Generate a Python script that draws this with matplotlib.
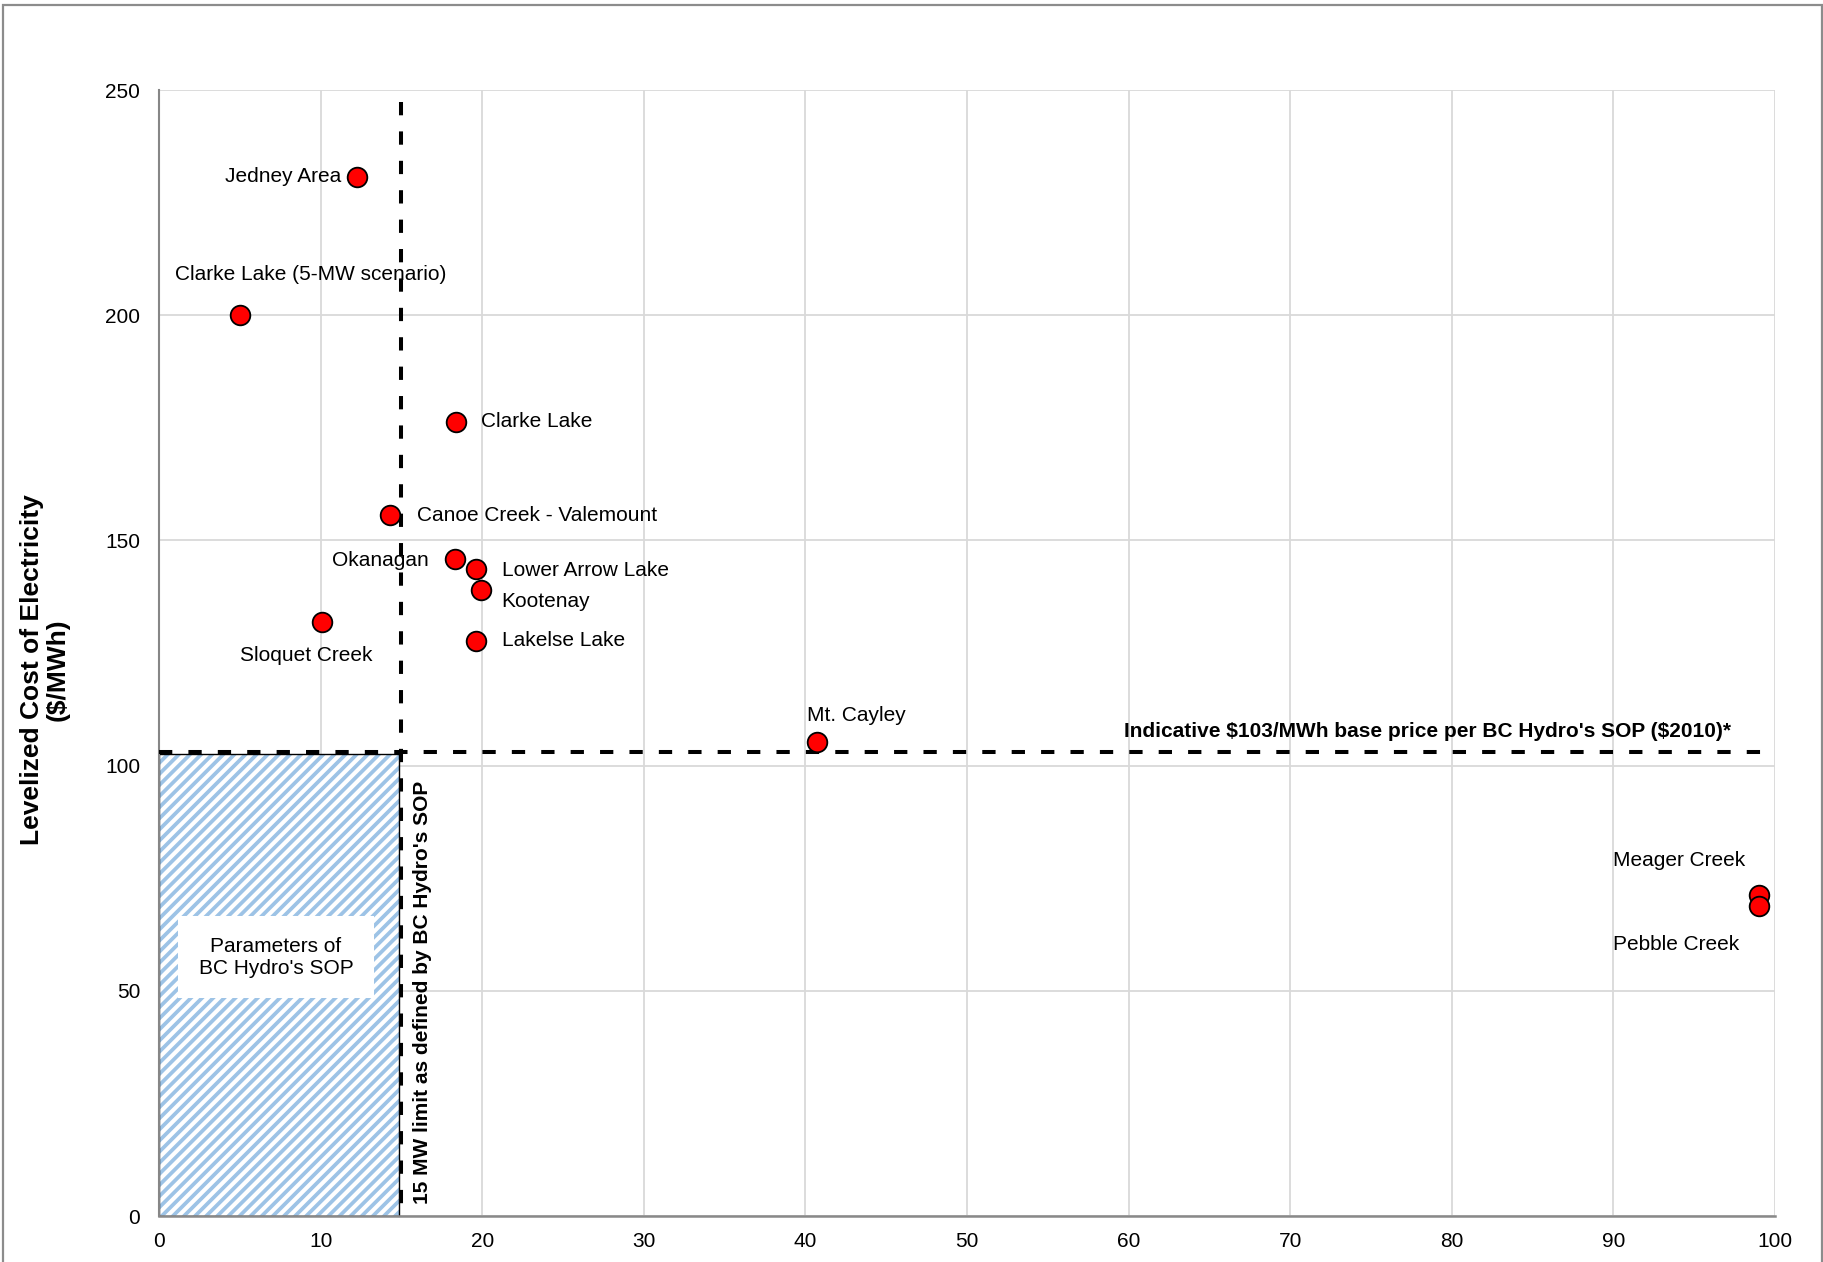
"""
Levelized cost of electricity vs. installed capacity for candidate BC
geothermal sites, with the BC Hydro Standing Offer Program (SOP) limits.
"""
import matplotlib
matplotlib.use("Agg")
import matplotlib.pyplot as plt
from matplotlib.patches import Rectangle

plt.rcParams["font.family"] = ["Liberation Sans", "DejaVu Sans"]
plt.rcParams["hatch.linewidth"] = 2.7

# site data: capacity (MW) and levelized cost ($/MWh)
SITES = ["Jedney Area", "Clarke Lake (5-MW scenario)", "Clarke Lake",
         "Canoe Creek - Valemount", "Okanagan", "Lower Arrow Lake", "Kootenay",
         "Lakelse Lake", "Sloquet Creek", "Mt. Cayley", "Meager Creek",
         "Pebble Creek"]
CAPACITY_MW = [12.25, 5.0, 18.4, 14.3, 18.3, 19.6, 19.9, 19.6, 10.1, 40.7, 99.0, 99.0]
LCOE = [230.7, 200.0, 176.3, 155.6, 145.9, 143.6, 139.0, 127.7, 131.9, 105.3, 71.3, 68.8]

SOP_LIMIT_MW = 15
SOP_PRICE = 103

X_TICKS = [0, 10, 20, 30, 40, 50, 60, 70, 80, 90, 100]
Y_TICKS = [0, 50, 100, 150, 200, 250]

# label placement (offset in points from the marker, horizontal alignment)
LABEL_POS = {
    "Jedney Area": ((-11.5, 0), "right"),
    "Clarke Lake (5-MW scenario)": ((51, 29), "center"),
    "Clarke Lake": ((18, 0), "left"),
    "Canoe Creek - Valemount": ((19.4, 0), "left"),
    "Okanagan": ((-18.7, -1.4), "right"),
    "Lower Arrow Lake": ((18.7, -0.7), "left"),
    "Kootenay": ((15.1, -8.6), "left"),
    "Lakelse Lake": ((18.7, 0), "left"),
    "Sloquet Creek": ((-11.5, -24.5), "center"),
    "Mt. Cayley": ((28.8, 18.7), "center"),
    "Meager Creek": ((-105, 25), "left"),
    "Pebble Creek": ((-105, -27.4), "left"),
}

W, H = 1823, 1262
fig = plt.figure(figsize=(W / 100, H / 100), dpi=100)
ax = fig.add_axes([159 / W, 1 - 1216 / H, (1775 - 159) / W, (1216 - 90) / H])

# outer chart frame (bottom edge cut off in the original)
fig.add_artist(Rectangle((3 / W, -0.05), (1822 - 3) / W, 1 - 5 / H + 0.05,
                         transform=fig.transFigure, fill=False,
                         edgecolor="#8c8c8c", linewidth=1.6, clip_on=False))

ax.set_xlim(0, 100)
ax.set_ylim(0, 250)
ax.set_xticks(X_TICKS)
ax.set_yticks(Y_TICKS)
ax.set_axisbelow(True)
ax.grid(True, color="#d9d9d9", linewidth=1.3, zorder=0.5)
ax.tick_params(length=0, labelsize=15)
ax.tick_params(axis="x", pad=11.5)
ax.tick_params(axis="y", pad=13.5)
for side in ["top", "right"]:
    ax.spines[side].set_visible(False)
ax.spines["left"].set_color("#868686")
ax.spines["left"].set_linewidth(1.5)
ax.spines["bottom"].set_color("#898989")
ax.spines["bottom"].set_linewidth(1.8)

# hatched SOP parameter box
ax.add_patch(Rectangle((0, 0), SOP_LIMIT_MW - 0.15, SOP_PRICE - 0.5,
                       facecolor="white", edgecolor="#9dc3e6", hatch="///",
                       linewidth=0, zorder=1))
ax.add_patch(Rectangle((0, 0), SOP_LIMIT_MW - 0.15, SOP_PRICE - 0.5,
                       fill=False, edgecolor="black", linewidth=1.0, zorder=1.1))
ax.text(7.24, 57.5, "Parameters of\nBC Hydro's SOP", fontsize=15, ha="center",
        va="center", multialignment="center", zorder=2,
        bbox=dict(boxstyle="square,pad=1.0", facecolor="white", edgecolor="none"))

# SOP limits (drawn from the top / left so the dash pattern starts there)
ax.plot([SOP_LIMIT_MW, SOP_LIMIT_MW], [247.3, 0], color="black", linewidth=2.9,
        dashes=(3.3, 4.0), dash_capstyle="butt", zorder=3, clip_on=False)
ax.plot([0, 100], [SOP_PRICE, SOP_PRICE], color="black", linewidth=2.9,
        dashes=(3.3, 4.0), dash_capstyle="butt", zorder=3)
ax.text(16.3, 49.6, "15 MW limit as defined by BC Hydro's SOP", rotation=90,
        fontsize=15, fontweight="bold", ha="center", va="center", zorder=4)
ax.text(78.5, 107.5, r"Indicative \$103/MWh base price per BC Hydro's SOP (\$2010)*",
        fontsize=15, fontweight="bold", ha="center", va="center", zorder=4)

ax.scatter(CAPACITY_MW, LCOE, s=200, color="#ff0000", edgecolor="black",
           linewidth=1.3, zorder=5, clip_on=False)

for name, x, y in zip(SITES, CAPACITY_MW, LCOE):
    offset, ha = LABEL_POS[name]
    ax.annotate(name, xy=(x, y), xytext=offset, textcoords="offset points",
                ha=ha, va="center", fontsize=15, zorder=6)

fig.text(45 / W, 1 - 670 / H, "Levelized Cost of Electricity\n(\\$/MWh)",
         rotation=90, ha="center", va="center", multialignment="center",
         fontsize=19, fontweight="bold", linespacing=1.1)

fig.savefig("out.png", dpi=100)
